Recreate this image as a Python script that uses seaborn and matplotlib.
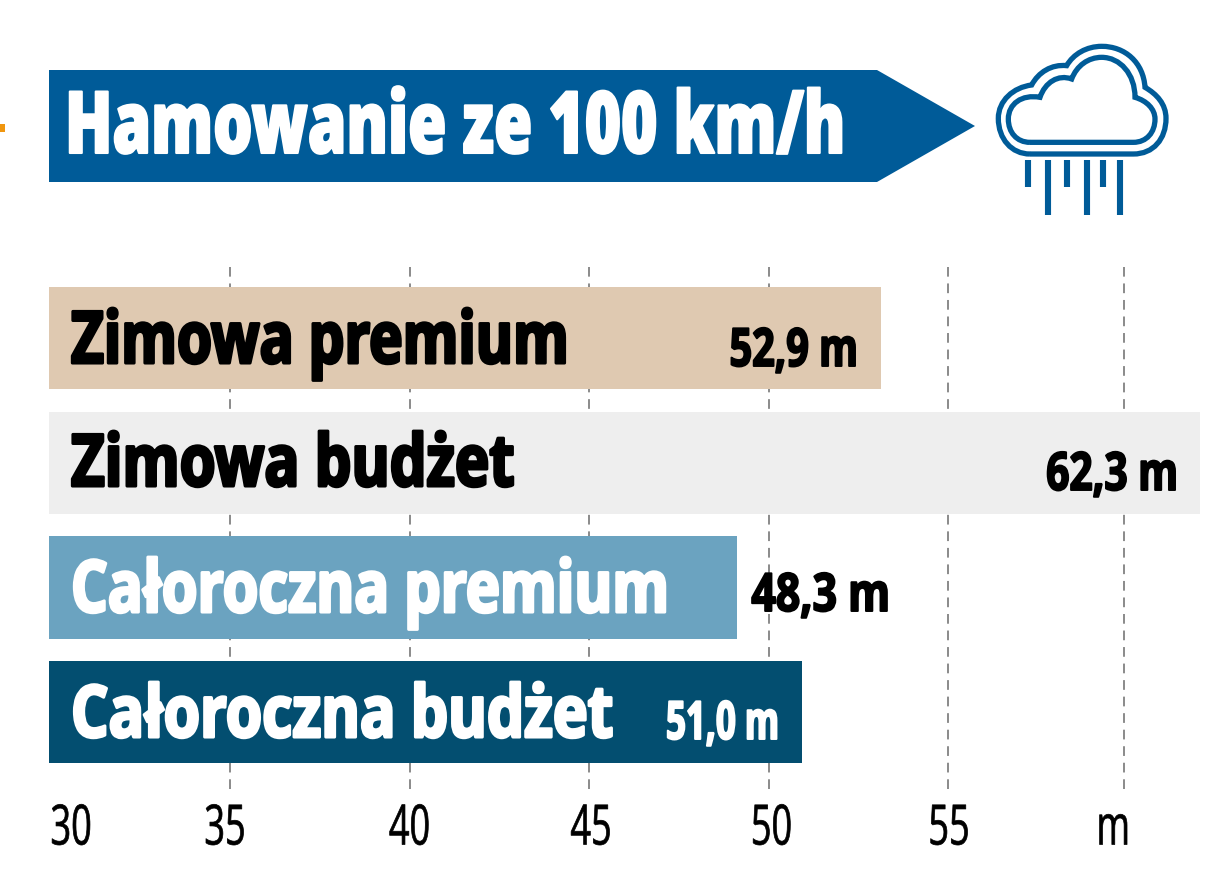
import matplotlib
matplotlib.use("Agg")
import matplotlib.pyplot as plt
from matplotlib.patheffects import AbstractPathEffect
from matplotlib.path import Path
from matplotlib.patches import PathPatch, Polygon, Rectangle
from matplotlib.transforms import Affine2D, Bbox
import pandas as pd
import seaborn as sns

title = "Hamowanie ze 100 km/h"
tyres = ["Zimowa premium", "Zimowa budżet", "Całoroczna premium", "Całoroczna budżet"]
# bar lengths as drawn, the printed labels do not quite agree with them
bar_ends = [53.13, 62.02, 49.12, 50.93]
value_labels = ["52,9 m", "62,3 m", "48,3 m", "51,0 m"]
bar_colors = ["#dfc9b1", "#eeeeee", "#6ba3c0", "#034e70"]
name_colors = ["#000000", "#000000", "#ffffff", "#ffffff"]
value_colors = ["#000000", "#000000", "#000000", "#ffffff"]
tick_values = [30, 35, 40, 45, 50, 55, 59.9]
tick_labels = ["30", "35", "40", "45", "50", "55", "m"]

BLUE = "#005b98"
FONT = ["Open Sans", "DejaVu Sans"]


class Squeeze(AbstractPathEffect):
    # no condensed font here, so narrow the glyphs around the text anchor
    def __init__(self, text, factor, stroke=0.0, dx=0):
        super().__init__()
        self.text = text
        self.factor = factor
        self.stroke = stroke
        self.dx = dx

    def draw_path(self, renderer, gc, tpath, affine, rgbFace=None):
        x0 = self.text.get_transform().transform(self.text.get_position())[0]
        squeeze = Affine2D().translate(-x0, 0).scale(self.factor, 1).translate(x0 + self.dx, 0)
        gc0 = renderer.new_gc()
        gc0.copy_properties(gc)
        gc0.set_linewidth(self.stroke)
        if rgbFace is not None:
            gc0.set_foreground(rgbFace)
        renderer.draw_path(gc0, tpath, affine + squeeze, rgbFace)
        gc0.restore()


def narrow(text, factor, stroke=0.0, dx=0):
    text.set_path_effects([Squeeze(text, factor, stroke, dx)])
    full_extent = text.get_window_extent

    def squeezed_extent(renderer=None, dpi=None):
        bb = full_extent(renderer, dpi)
        x0 = text.get_transform().transform(text.get_position())[0]
        return Bbox([[x0 + dx + (bb.x0 - x0) * factor, bb.y0], [x0 + dx + (bb.x1 - x0) * factor, bb.y1]])

    text.get_window_extent = squeezed_extent
    return text


sns.set_theme(style="white")
plt.rcParams["font.family"] = FONT

fig = plt.figure(figsize=(12.3, 8.79), dpi=100)
ax = fig.add_axes([0, (879 - 790) / 879, 1, (790 - 268) / 879])

df = pd.DataFrame({"tyre": tyres, "length": bar_ends})
PX = 35.9
left = 35 - 230 / PX
# bars are drawn from the 30 m origin
sns.barplot(data=df, y="tyre", x=[v - 29.96 for v in bar_ends], hue="tyre", palette=bar_colors,
            legend=False, width=0.82, dodge=False, left=29.96, ax=ax, zorder=3, saturation=1, linewidth=0)
ax.set_xlim(left, left + 1230 / PX)
ax.set_ylim((790 - 339) / 124.7, (268 - 339) / 124.7)
ax.set_xlabel("")
ax.set_ylabel("")
ax.set_yticks([])
sns.despine(ax=ax, left=True, bottom=True, right=True, top=True)

ax.set_xticks(tick_values)
ax.set_xticklabels(tick_labels, fontsize=40, color="black")
ax.tick_params(axis="x", length=0, pad=9)
ax.grid(axis="x", color="#8a8a8a", linestyle=(0, (5, 3.5)), linewidth=1.4, zorder=1)
ax.set_axisbelow(True)
ax.xaxis.get_gridlines()[0].set_visible(False)
ticklabs = ax.get_xticklabels()
ticklabs[0].set_ha("left")
ticklabs[-1].set_ha("right")
tick_shift = [0, -5, 0, 2, 3, 1, 6]
for lab, dx in zip(ticklabs, tick_shift):
    narrow(lab, 0.65, 0.5, dx)

# overlay in pixels for the header and the text on the bars
ov = fig.add_axes([0, 0, 1, 1], zorder=5)
ov.set_xlim(0, 1230)
ov.set_ylim(879, 0)
ov.axis("off")

ov.add_patch(Polygon([(49, 71), (877, 71), (975, 127), (877, 183), (49, 183)], closed=True, color=BLUE, lw=0))
narrow(ov.text(65, 154, title, color="white", fontsize=62, fontweight=800, va="baseline"), 0.72, 1.5)
ov.add_patch(Rectangle((0, 125), 5, 8, color="#f0960f", lw=0))


def zoomed(x, y):
    return 960 + x / 3, 30 + y / 3


def cloud(points):
    verts = [zoomed(*p) for p in points]
    codes = [Path.MOVETO, Path.LINETO] + [Path.CURVE4] * (len(verts) - 2)
    return Path(verts, codes)


outer = [(210, 375), (520, 375), (580, 375), (618, 330), (618, 268), (618, 225), (590, 195), (555, 175),
         (550, 100), (495, 52), (425, 52), (380, 52), (340, 75), (320, 110), (275, 105), (235, 130), (215, 168),
         (160, 175), (115, 215), (115, 268), (115, 330), (155, 375), (210, 375)]
inner = [(210, 340), (520, 340), (560, 340), (585, 310), (585, 270), (585, 240), (560, 215), (525, 205),
         (525, 135), (480, 85), (425, 85), (385, 85), (350, 110), (335, 150), (295, 135), (255, 160), (240, 205),
         (185, 195), (145, 225), (145, 270), (145, 310), (170, 340), (210, 340)]
for pts in (outer, inner):
    ov.add_patch(PathPatch(cloud(pts), facecolor="none", edgecolor=BLUE, lw=3.8))
for zx, zy in [(205, 475), (265, 558), (320, 475), (380, 558), (430, 475), (480, 558)]:
    x0, y0 = zoomed(zx, 392)
    x1, y1 = zoomed(zx, zy)
    ov.plot([x0, x1], [y0, y1], color=BLUE, lw=4.4, solid_capstyle="butt")

name_base = [364, 487, 613, 738]
name_squeeze = [0.786, 0.806, 0.80, 0.816]
value_right = [858, 1178, 890, 779]
value_base = [367, 491, 612, 740]
value_squeeze = [0.75, 0.77, 0.81, 0.66]
for i in range(len(tyres)):
    narrow(ov.text(71, name_base[i], tyres[i], color=name_colors[i], fontsize=52, fontweight=700,
                   va="baseline"), name_squeeze[i], 2.2)
    narrow(ov.text(value_right[i], value_base[i], value_labels[i], color=value_colors[i], fontsize=38,
                   fontweight=700, ha="right", va="baseline"), value_squeeze[i], 1.4)

fig.savefig("out.png", dpi=100)
